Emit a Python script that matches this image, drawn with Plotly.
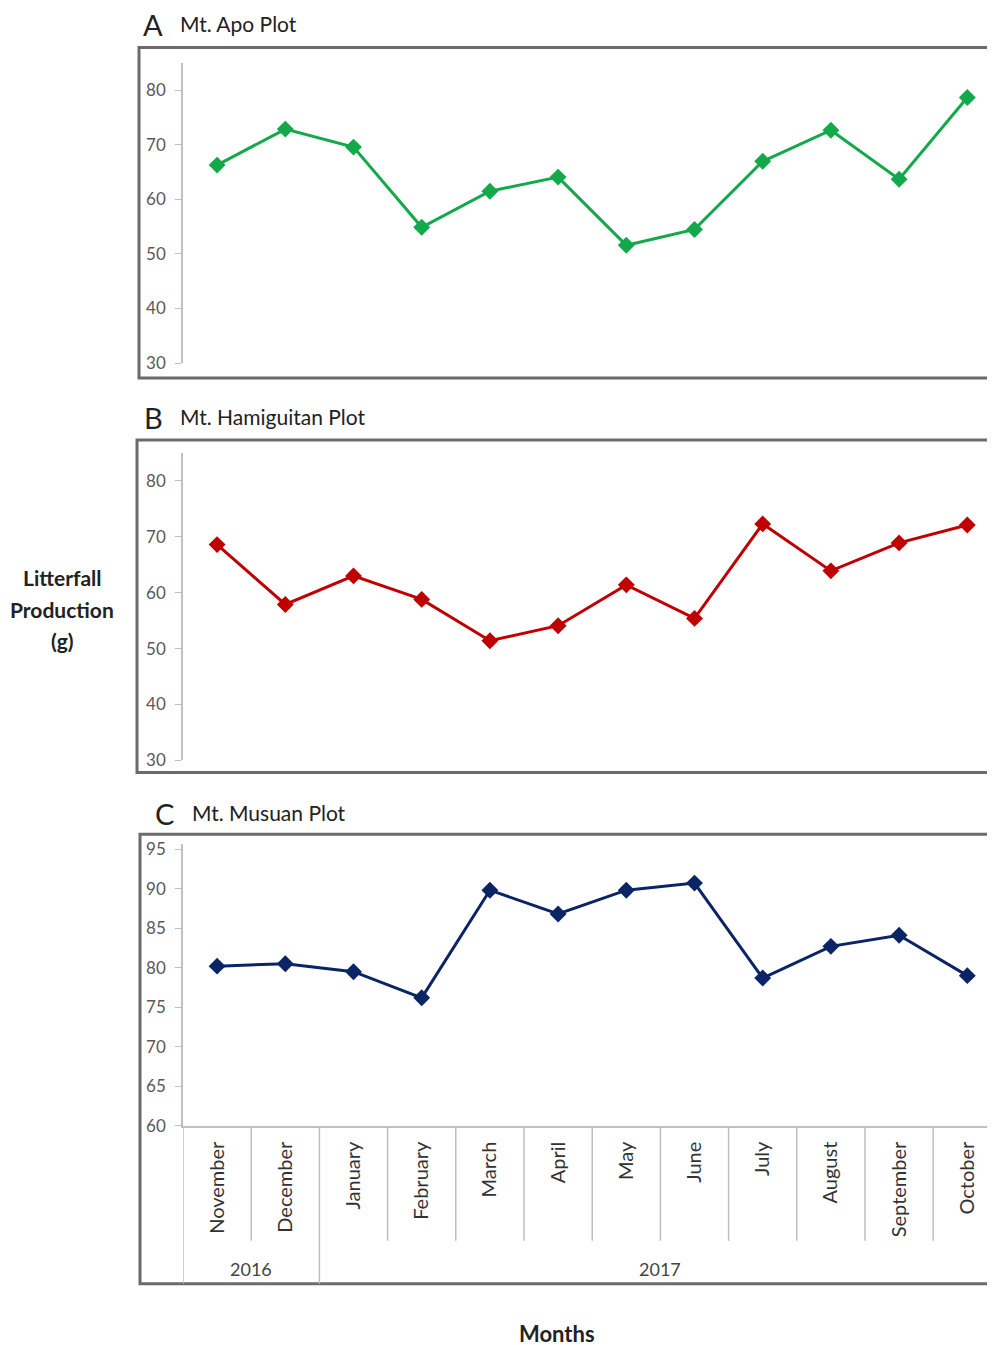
import plotly.graph_objects as go

months = ["November", "December", "January", "February", "March", "April",
          "May", "June", "July", "August", "September", "October"]
years = ["2016", "2016", "2017", "2017", "2017", "2017",
         "2017", "2017", "2017", "2017", "2017", "2017"]

apo = [66.3, 72.9, 69.6, 54.9, 61.5, 64.1, 51.6, 54.5, 67.0, 72.7, 63.7, 78.7]
hamiguitan = [68.6, 57.9, 63.0, 58.8, 51.4, 54.1, 61.4, 55.4, 72.3, 63.9, 68.9, 72.1]
musuan = [80.2, 80.5, 79.5, 76.2, 89.8, 86.8, 89.8, 90.7, 78.7, 82.7, 84.1, 79.0]

panel_letters = ["A", "B", "C"]
panel_titles = ["Mt. Apo Plot", "Mt. Hamiguitan Plot", "Mt. Musuan Plot"]
colors = ["#13a94b", "#c00000", "#0b2466"]
ylabel_lines = ["Litterfall", "Production", "(g)"]

W, H = 995, 1345
FONT = "Lato"

# correction for page placement offset
XOFF = 8.0
YOFF, YSC = 13.5, 0.9895


def py(px):
    return 1 - ((px - YOFF) / YSC) / H


def pxx(px):
    return (px - XOFF) / W


idx = list(range(len(months)))

fig = go.Figure()
series = [apo, hamiguitan, musuan]
for i, (vals, col) in enumerate(zip(series, colors)):
    sfx = "" if i == 0 else str(i + 1)
    fig.add_trace(go.Scatter(
        x=idx, y=vals, mode="lines+markers",
        line=dict(color=col, width=3),
        marker=dict(symbol="diamond", size=13, color=col),
        xaxis="x" + sfx, yaxis="y" + sfx, showlegend=False,
        hoverinfo="skip"))

cat_px = 68.2
x_axis_px = 183
xdom = [pxx(x_axis_px), 1.0]
xrange = [-0.5, -0.5 + (W + XOFF - x_axis_px) / cat_px]

ydoms = [(py(363), py(62.7)), (py(761), py(453)), (py(1127), py(845))]
yranges = [[30, 85], [30, 85], [60, 95.6]]
ydticks = [10, 10, 5]

axis_col = "#bfbfbf"
tick_font = dict(family=FONT, size=17, color="#595959")

layout = dict(
    width=W, height=H,
    margin=dict(l=0, r=0, t=0, b=0),
    paper_bgcolor="white", plot_bgcolor="white",
    font=dict(family=FONT),
)
for i in range(3):
    sfx = "" if i == 0 else str(i + 1)
    layout["xaxis" + sfx] = dict(
        domain=xdom, range=xrange, anchor="y" + sfx,
        showgrid=False, zeroline=False,
        showline=(i == 2), linecolor=axis_col, linewidth=1.5,
        tickmode="array", tickvals=idx if i == 2 else [],
        ticktext=months if i == 2 else [],
        tickangle=-90, tickfont=dict(family=FONT, size=20, color="#333333"),
        ticks="", ticklabelstandoff=6,
    )
    layout["yaxis" + sfx] = dict(
        domain=list(ydoms[i]), range=yranges[i], anchor="x" + sfx,
        showgrid=False, zeroline=False,
        showline=True, linecolor=axis_col, linewidth=1.5,
        ticks="outside", ticklen=6, tickcolor=axis_col, tickwidth=1.2,
        dtick=ydticks[i], tick0=0, tickfont=tick_font,
        ticklabelstandoff=6,
    )
fig.update_layout(**layout)

shapes = []
frames = [(139, 47, 378), (137, 440, 773), (140, 835, 1285)]
for (xl, yt, yb) in frames:
    shapes.append(dict(type="rect", xref="paper", yref="paper",
                       x0=pxx(xl), x1=1.05, y0=py(yb), y1=py(yt),
                       line=dict(color="#6b6b6b", width=3),
                       fillcolor="rgba(0,0,0,0)", layer="above"))

for k in range(len(months)):
    boundary = k - 0.5
    is_year = (k == 0) or (years[k] != years[k - 1])
    shapes.append(dict(type="line", xref="x3", yref="paper",
                       x0=boundary, x1=boundary,
                       y0=py(1285 if is_year else 1242), y1=py(1127),
                       line=dict(color=axis_col, width=1.5)))
fig.update_layout(shapes=shapes)

annotations = []
title_pos = [(141, 178, 24), (142, 178, 418), (153, 190, 814)]
for (lx, tx, ty), letter, title in zip(title_pos, panel_letters, panel_titles):
    annotations.append(dict(text=letter, x=pxx(lx), y=py(ty), xref="paper", yref="paper",
                            xanchor="left", yanchor="middle", showarrow=False,
                            font=dict(family=FONT, size=29, color="#222222")))
    annotations.append(dict(text=title, x=pxx(tx), y=py(ty - 1), xref="paper", yref="paper",
                            xanchor="left", yanchor="middle", showarrow=False,
                            font=dict(family=FONT, size=21, color="#222222")))

for yr in sorted(set(years)):
    ks = [k for k, y in enumerate(years) if y == yr]
    annotations.append(dict(text=yr, x=sum(ks) / len(ks), y=py(1270), xref="x3", yref="paper",
                            xanchor="center", yanchor="middle", showarrow=False,
                            font=dict(family=FONT, size=18, color="#444444")))

for j, line in enumerate(ylabel_lines):
    annotations.append(dict(text="<b>" + line + "</b>", x=pxx(62), y=py(578 + 31.5 * j),
                            xref="paper", yref="paper", xanchor="center", yanchor="middle",
                            showarrow=False,
                            font=dict(family=FONT, size=21, color="#222222")))
annotations.append(dict(text="<b>Months</b>", x=pxx(557), y=py(1335),
                        xref="paper", yref="paper", xanchor="center", yanchor="middle",
                        showarrow=False, font=dict(family=FONT, size=22, color="#222222")))
fig.update_layout(annotations=annotations)

fig.write_html("out.html")
